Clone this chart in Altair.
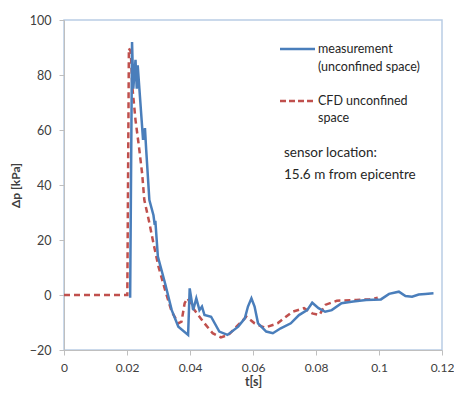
import altair as alt
import pandas as pd

# measurement (unconfined space)
meas_t = [0.021, 0.0216, 0.022, 0.0227, 0.0231, 0.0234, 0.0251, 0.0257, 0.0261, 0.0271,
          0.0284, 0.0288, 0.0290, 0.0298, 0.0321, 0.0342, 0.0363, 0.0394, 0.0399, 0.0410,
          0.0420, 0.0430, 0.0438, 0.0446, 0.0467, 0.0493, 0.0519, 0.0553, 0.0574, 0.0584,
          0.0595, 0.0605, 0.0616, 0.0642, 0.0663, 0.0688, 0.0720, 0.0746, 0.0772, 0.0788,
          0.0808, 0.0829, 0.0850, 0.0881, 0.0918, 0.0959, 0.1006, 0.1032, 0.1063, 0.1084,
          0.1105, 0.1126, 0.1147, 0.1173]
meas_p = [-1, 92, 75, 85.5, 75, 83.5, 56.4, 60.7, 52.7, 34.5,
          29, 25.5, 27, 14, 4.2, -5.5, -11.5, -14.5, 2.4, -5.5,
          -1.2, -5.5, -4.2, -7.3, -7.9, -13.3, -14.5, -11.5, -8.5, -4.2,
          -1.2, -4.2, -10.3, -13.3, -13.9, -12.1, -10.3, -7.3, -5.5, -2.8,
          -4.8, -6.1, -5.5, -3.0, -2.4, -1.8, -1.6, 0.4, 1.2, -0.4,
          -0.6, 0.2, 0.4, 0.6]

# CFD unconfined space
cfd_t = [0.0, 0.0201, 0.0206, 0.0212, 0.0217, 0.0227, 0.0238, 0.0248, 0.0255, 0.0269,
         0.0284, 0.0300, 0.0321, 0.0342, 0.0363, 0.0373, 0.0383, 0.0392, 0.0410, 0.0446,
         0.0472, 0.0498, 0.0522, 0.0553, 0.0579, 0.0605, 0.0637, 0.0678, 0.0725, 0.0762,
         0.0788, 0.0811, 0.0829, 0.0866, 0.0928, 0.0970, 0.0996]
cfd_p = [0, 0, 89.7, 88.5, 75.7, 63.6, 53.9, 44.2, 34.5, 27.3,
         18.8, 10.3, 1.8, -6.1, -10.3, -9.7, -3.0, -1.2, -4.8, -10.3,
         -13.9, -15.4, -14.5, -10.9, -7.9, -10.3, -11.9, -10.3, -6.1, -4.8,
         -6.7, -7.3, -3.6, -2.1, -1.8, -1.6, -1.0]

x_ticks = [0, 0.02, 0.04, 0.06, 0.08, 0.1, 0.12]
x_labels = ["0", "0.02", "0.04", "0.06", "0.08", "0.1", "0.12"]
y_ticks = [-20, 0, 20, 40, 60, 80, 100]

FONT = "Lato"
BLUE = "#4a7ebb"
RED = "#c0504d"

meas = pd.DataFrame({"t": meas_t, "p": meas_p, "i": range(len(meas_t))})
cfd = pd.DataFrame({"t": cfd_t, "p": cfd_p, "i": range(len(cfd_t))})

label_expr = "[" + ",".join(f"'{s}'" for s in x_labels) + "][round(datum.value / 0.02)]"

xenc = alt.X("t:Q", scale=alt.Scale(domain=[0, 0.12], nice=False),
             axis=alt.Axis(values=x_ticks, labelExpr=label_expr, title="t[s]", grid=False,
                           domainColor="#bfbfbf", tickColor="#bfbfbf", tickSize=5,
                           labelPadding=7, labelFontSize=12, labelColor="#404040",
                           labelFont=FONT, titleFont=FONT, titleFontSize=12.5,
                           titleFontWeight="bold", titleColor="#404040", titlePadding=2,
                           labelOverlap=False, labelBound=False, labelFlush=False))
yenc = alt.Y("p:Q", scale=alt.Scale(domain=[-20, 100], nice=False),
             axis=alt.Axis(values=y_ticks, title="Δp [kPa]", grid=False,
                           domainColor="#bfbfbf", tickColor="#bfbfbf", tickSize=5,
                           labelPadding=8, labelFontSize=12.5, labelColor="#404040",
                           labelFont=FONT, titleFont=FONT, titleFontSize=12,
                           titleFontWeight="bold", titleColor="#404040",
                           titleX=-42, labelFlush=False))

cfd_line = alt.Chart(cfd).mark_line(color=RED, strokeWidth=2.5, strokeDash=[6, 4]).encode(
    x=xenc, y=yenc, order="i:Q")
meas_line = alt.Chart(meas).mark_line(color=BLUE, strokeWidth=2.5).encode(
    x=xenc, y=yenc, order="i:Q")

leg_blue = alt.Chart(pd.DataFrame({"a": [0]})).mark_rule(color=BLUE, strokeWidth=2.5).encode(
    x=alt.value(216), x2=alt.value(251), y=alt.value(29))
leg_red = alt.Chart(pd.DataFrame({"a": [0]})).mark_rule(color=RED, strokeWidth=2.5, strokeDash=[6, 3]).encode(
    x=alt.value(216), x2=alt.value(251), y=alt.value(81))

texts = [
    ("measurement", 254, 29, 12.5),
    ("(unconfined space)", 254, 47, 12.5),
    ("CFD unconfined", 254, 81, 12.5),
    ("space", 254, 98, 12.5),
    ("sensor location:", 220, 133, 13.5),
    ("15.6 m from epicentre", 220, 155, 13.5),
]
text_layers = [
    alt.Chart(pd.DataFrame({"a": [0]})).mark_text(
        text=s, align="left", baseline="middle", font=FONT, fontSize=fs, color="#262626"
    ).encode(x=alt.value(x), y=alt.value(y))
    for s, x, y, fs in texts
]

chart = alt.layer(cfd_line, meas_line, leg_blue, leg_red, *text_layers).properties(
    width=378, height=330,
    autosize=alt.AutoSizeParams(type="none"),
    padding={"left": 56, "top": 12, "right": 12, "bottom": 40},
).configure_view(stroke="#b9cde5", strokeWidth=1.5)

chart.save("out.html", embed_options={"renderer": "svg", "actions": False})
